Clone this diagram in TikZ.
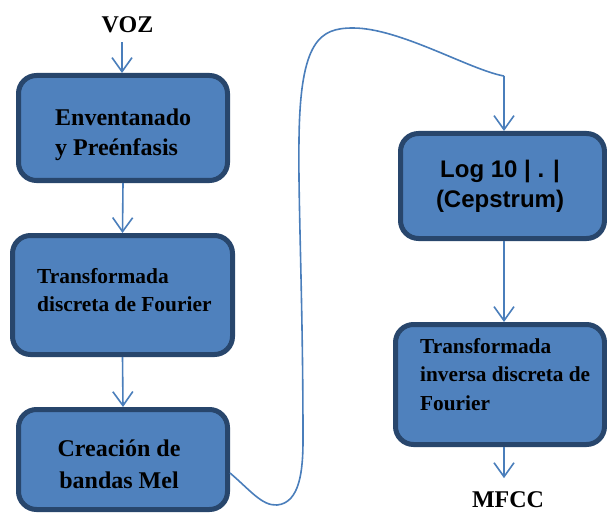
\documentclass[tikz,border=0pt]{standalone}
\usepackage{fontspec}
\setmainfont{Liberation Serif}
\newfontfamily\arialfont{Liberation Sans}
\usetikzlibrary{arrows.meta}
\definecolor{boxfill}{HTML}{4F81BD}
\definecolor{boxline}{HTML}{28466C}
\definecolor{arrcol}{HTML}{4A7EBB}
\tikzset{
  box/.style={draw=boxline, fill=boxfill, line width=5pt, rounded corners=18pt, inner sep=0pt},
  arr/.style={draw=arrcol, line width=1.6pt, -{Straight Barb[length=14pt,width=20pt]}},
  curv/.style={draw=arrcol, line width=1.6pt},
  lbl/.style={inner sep=0pt, font=\bfseries\fontsize{24}{30}\selectfont},
  txt/.style={inner sep=0pt, align=left, anchor=base west}
}
\begin{document}
\begin{tikzpicture}[x=1pt,y=-1pt]
\useasboundingbox (0,0) rectangle (607,513);
% boxes
\node[box, minimum width=209pt, minimum height=105pt] (b1) at (123,128) {};
\node[box, minimum width=220pt, minimum height=119pt] (b2) at (122.5,295) {};
\node[box, minimum width=209pt, minimum height=100pt] (b3) at (123,459.5) {};
\node[box, minimum width=204pt, minimum height=105pt] (b4) at (502.5,186) {};
\node[box, minimum width=209pt, minimum height=120pt] (b5) at (500,384.5) {};
% texts (anchor at baseline of last line)
\node[txt, font=\bfseries\fontsize{24}{30}\selectfont] (t1) at (55,156) {Enventanado\\y Preénfasis};
\node[txt, font=\bfseries\fontsize{21.4}{28}\selectfont] (t2) at (37,311) {Transformada\\discreta de Fourier};
\node[inner sep=0pt, align=center, anchor=base, font=\bfseries\fontsize{24}{32}\selectfont] (t3) at (119,488) {Creación de\\bandas Mel};
\node[inner sep=0pt, align=center, anchor=base, font=\arialfont\bfseries\fontsize{24}{29}\selectfont] (t4) at (500,207) {Log 10 | . |\\(Cepstrum)};
\node[txt, font=\bfseries\fontsize{21.3}{28.5}\selectfont] (t5) at (420,410) {Transformada\\inversa discreta de\\Fourier};
% labels
\node[lbl, anchor=base, outer sep=9pt] (voz) at (127.5,33) {VOZ};
\node[lbl, anchor=base, outer sep=13pt] (mfcc) at (508,507) {MFCC};
\coordinate (c1) at (504,76);
% connectors
\draw[arr] (voz.south -| b1.north) ++(-1,0) coordinate (v0) (v0) -- (v0 |- b1.north);
\draw[arr] (b1.south) -- (b2.north);
\draw[arr] (b2.south) -- (b3.north);
\draw[curv] (b3.east |- 0,473) .. controls (250,490) and (262,506) .. (277,505)
  .. controls (300,503) and (303,470) .. (303,440)
  .. controls (303,300) and (298,200) .. (299,140)
  .. controls (300,40) and (320,28) .. (353,28)
  .. controls (400,28) and (470,70) .. (c1);
\draw[arr] (c1) -- (c1 |- b4.north);
\draw[arr] (b4.south -| c1) -- (b5.north -| c1);
\draw[arr] (b5.south -| c1) -- (c1 |- mfcc.north);
\end{tikzpicture}
\end{document}
